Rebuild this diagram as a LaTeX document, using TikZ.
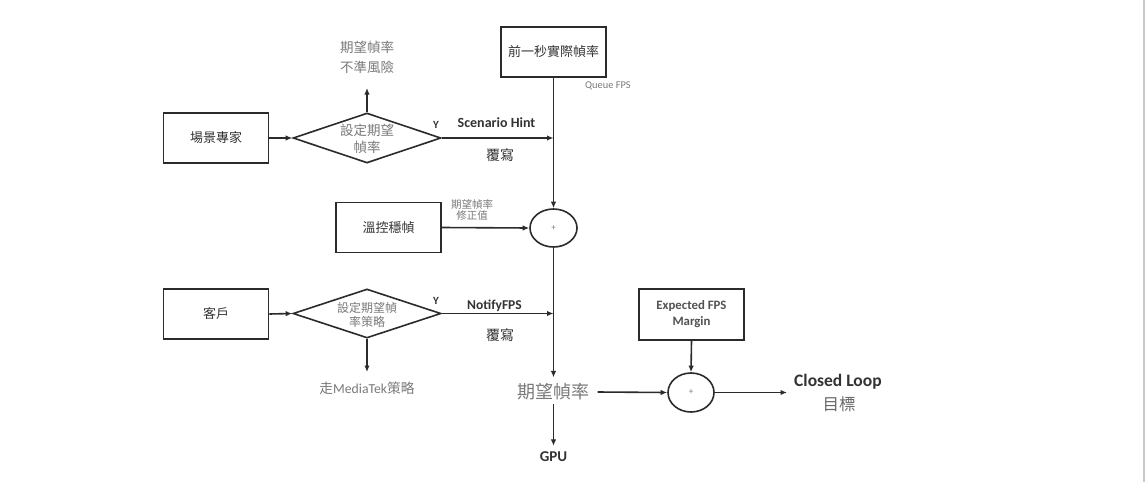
\documentclass[tikz,border=0pt]{standalone}
\usepackage{fontspec}
\setmainfont{Carlito}
\newfontfamily\cjk{Noto Sans CJK TC}
\usetikzlibrary{arrows.meta,shapes.geometric}
\definecolor{ink}{HTML}{2B2B2B}
\definecolor{txtdark}{HTML}{333333}
\definecolor{txtgray}{HTML}{7A7A7A}
\definecolor{edgegray}{HTML}{C8C8C8}
\tikzset{
  box/.style={draw=ink, line width=1.6pt, minimum width=105pt, minimum height=50pt, inner sep=0pt, text=txtdark, font=\cjk\fontsize{13}{16}\selectfont},
  dia/.style={draw=ink, line width=1.6pt, shape=diamond, minimum width=148pt, minimum height=50pt, inner sep=0pt},
  sumnode/.style={draw=ink, line width=1.6pt, shape=ellipse, minimum width=47pt, minimum height=38pt, inner sep=0pt, text=txtgray, font=\fontsize{9}{10}\selectfont},
  diatext/.style={text=txtgray, align=center, inner sep=0pt},
  lbl/.style={inner sep=0pt, align=center},
  conn/.style={draw=ink, line width=1.6pt, -{Latex[length=6.5pt,width=5.5pt]}},
}
\begin{document}
\begin{tikzpicture}[x=1pt,y=-1pt]
\fill[white] (0,0) rectangle (1145,482);
\useasboundingbox (0,0) rectangle (1145,482);
\draw[edgegray, line width=2pt] (1143.5,0) -- (1143.5,482);

% boxes
\node[box] (prev) at (553.5,52) {前一秒實際幀率};
\node[box] (expert) at (216,138) {場景專家};
\node[box] (thermal) at (388.5,227.5) {溫控穩幀};
\node[box] (client) at (216,314) {客戶};
\node[box, font=\bfseries\fontsize{12.8}{16}\selectfont, text=txtdark!85, align=center, minimum height=51pt] (margin) at (691.5,314.5) {Expected FPS\\Margin};

% decisions
\node[dia] (d1) at (367,138) {};
\node[diatext, font=\cjk\fontsize{13.5}{17}\selectfont] (d1t) at (367,139) {設定期望\\幀率};
\node[dia, minimum height=49pt] (d2) at (367,313.5) {};
\node[diatext, font=\cjk\fontsize{12}{14}\selectfont] (d2t) at (367,315) {設定期望幀\\率策略};

% summing junctions
\node[sumnode] (s1) at (553.5,228) {+};
\node[sumnode, minimum width=46pt, minimum height=39pt] (s2) at (691,392.5) {+};

% text nodes
\node[lbl, text=txtgray, font=\cjk\fontsize{18}{20}\selectfont] (exp) at (553.5,392) {期望幀率};
\node[lbl, text=txtdark, font=\bfseries\fontsize{15}{17}\selectfont] (gpu) at (553.5,457) {GPU};
\node[lbl, text=txtgray, font=\cjk\fontsize{13.5}{20}\selectfont] (risk) at (367,57) {期望幀率\\不準風險};
\node[lbl, text=txtgray, font=\fontsize{13.7}{15}\selectfont] (mtk) at (367,388) {{\cjk 走}MediaTek{\cjk 策略}};
\node[lbl, text=txtdark, font=\bfseries\fontsize{17.5}{19}\selectfont, anchor=west] (cl) at (794,382) {Closed Loop};
\node[lbl, text=txtgray!85!black, font=\cjk\fontsize{16.5}{18}\selectfont] (goal) at (839,404) {目標};

\coordinate (riskend) at (367,88);
\coordinate (mtkend) at (367,372);
\coordinate (clend) at (787,392.5);

% connectors
\draw[conn] (expert.east) -- (d1.west);
\draw[conn] (d1.north) -- (riskend);
\draw[conn] (d1.east) -- (d1.east -| prev.south);
\draw[conn] (prev.south) -- (s1.north);
\draw[conn] (thermal.east) -- (s1.west);
\draw[conn] (s1.south) -- ([yshift=6pt]exp.north);
\draw[conn] (client.east) -- (d2.west);
\draw[conn] (d2.east) -- (d2.east -| prev.south);
\draw[conn] (d2.south) -- (mtkend);
\draw[conn] ([xshift=8pt]exp.east) -- (s2.west);
\draw[conn] (margin.south) -- (s2.north);
\draw[conn] (s2.east) -- (clend);
\draw[conn] ([yshift=-3pt]exp.south) -- ([yshift=6pt]gpu.north);

% connector labels
\node[lbl, text=txtdark, font=\bfseries\fontsize{11}{12}\selectfont] (y1) at (436,125) {Y};
\node[lbl, text=txtdark, font=\bfseries\fontsize{11}{12}\selectfont] (y2) at (436,301) {Y};
\node[lbl, text=txtdark, font=\bfseries\fontsize{14}{15}\selectfont] (sh) at (496.5,123) {Scenario Hint};
\node[lbl, text=txtdark, font=\bfseries\fontsize{13.5}{15}\selectfont] (nf) at (494.5,306) {NotifyFPS};
\node[lbl, text=txtdark, font=\cjk\fontsize{14}{16}\selectfont] (ow1) at (500,155) {覆寫};
\node[lbl, text=txtdark, font=\cjk\fontsize{14}{16}\selectfont] (ow2) at (500,335) {覆寫};
\node[lbl, text=txtgray, font=\fontsize{10.4}{11}\selectfont, anchor=west] (qf) at (585,85.5) {Queue FPS};
\node[lbl, text=txtgray, font=\cjk\fontsize{10.5}{11.5}\selectfont] (corr) at (472,210) {期望幀率\\修正值};
\end{tikzpicture}
\end{document}
